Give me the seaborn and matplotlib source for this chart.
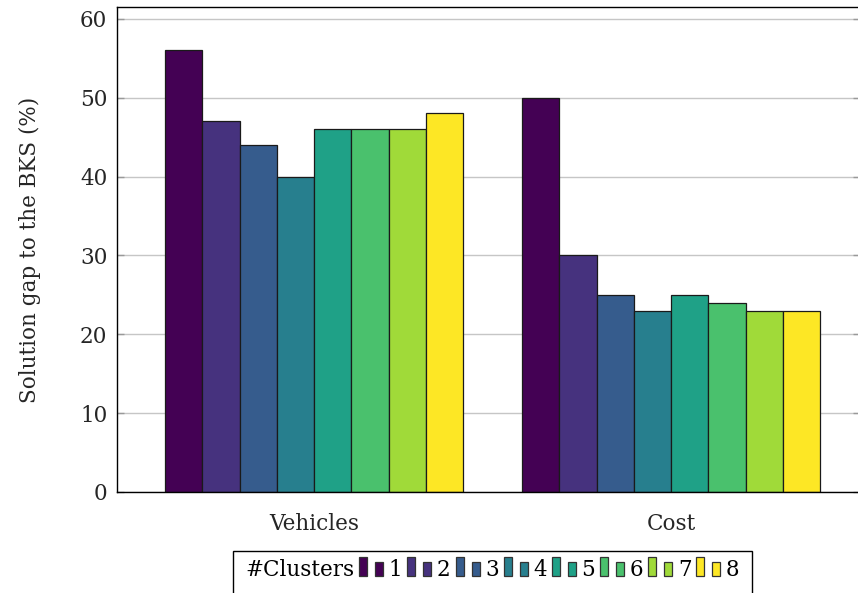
import matplotlib
matplotlib.use("Agg")
import matplotlib.pyplot as plt
from matplotlib.patches import Rectangle
from matplotlib.offsetbox import HPacker, TextArea, DrawingArea, AnchoredOffsetbox
import seaborn as sns
import pandas as pd

# Solution gap (%) per metric and number of clusters
metrics = ["Vehicles", "Cost"]
clusters = ["1", "2", "3", "4", "5", "6", "7", "8"]
vehicles_gap = [56, 47, 44, 40, 46, 46, 46, 48]
cost_gap = [50, 30, 25, 23, 25, 24, 23, 23]
y_ticks = [0, 10, 20, 30, 40, 50, 60]

rows = []
for c, v in zip(clusters, vehicles_gap):
    rows.append({"metric": "Vehicles", "cluster": c, "gap": v})
for c, v in zip(clusters, cost_gap):
    rows.append({"metric": "Cost", "cluster": c, "gap": v})
df = pd.DataFrame(rows)

sns.set_style("white")
plt.rcParams["font.family"] = ["DejaVu Serif"]
FS = 15.5
plt.rcParams["font.size"] = FS

# viridis sampled end to end, one colour per cluster count
cmap = matplotlib.colormaps["viridis"]
palette = [cmap(i / (len(clusters) - 1)) for i in range(len(clusters))]

W, H = 858, 593
fig = plt.figure(figsize=(W / 100, H / 100), dpi=100)
ax_l, ax_r, ax_t, ax_b = 117, 860, 7, 492
ax = fig.add_axes([ax_l / W, 1 - ax_b / H, (ax_r - ax_l) / W, (ax_b - ax_t) / H])

sns.barplot(data=df, x="metric", y="gap", hue="cluster", order=metrics,
            hue_order=clusters, palette=palette, saturation=1, width=0.835,
            edgecolor="#1a1a1a", linewidth=0.9, legend=False, ax=ax)

ax.set_xlim(-0.552, 1.529)
ax.set_ylim(0, 61.5)
ax.set_yticks(y_ticks)
ax.yaxis.grid(True, color="#c6c6c6", linewidth=1.0)
ax.xaxis.grid(False)
ax.set_axisbelow(True)
for s in ax.spines.values():
    s.set_visible(True)
    s.set_color("black")
    s.set_linewidth(1.0)
ax.tick_params(axis="y", direction="in", length=5, width=1, color="#999999",
               left=True, right=True, pad=7, labelsize=FS)
ax.tick_params(axis="x", length=0, pad=15, labelsize=FS)
ax.set_xlabel("")
ax.set_ylabel("Solution gap to the BKS (%)", fontsize=FS)
ax.yaxis.set_label_coords(-0.102, 0.5)

# Legend: "#Clusters" followed by two swatches and a label per cluster
px = 0.72  # pixels -> points at 100 dpi
children = [TextArea("#Clusters", textprops=dict(fontsize=FS, color="black"))]
for c, col in zip(clusters, palette):
    da = DrawingArea(34.5 * px, 20 * px, 0, 0)
    da.add_artist(Rectangle((5 * px, 0.5 * px), 8 * px, 19 * px, facecolor=col,
                            edgecolor="#333333", linewidth=0.9))
    da.add_artist(Rectangle((21 * px, 0.5 * px), 8 * px, 14 * px, facecolor=col,
                            edgecolor="#333333", linewidth=0.9))
    children.append(da)
    children.append(TextArea(c, textprops=dict(fontsize=FS, color="black")))
box = HPacker(children=children, align="baseline", pad=0, sep=0)
anchored = AnchoredOffsetbox(loc="center left", child=box, pad=0, borderpad=0,
                             frameon=False,
                             bbox_to_anchor=(245 / W, 1 - 569 / H),
                             bbox_transform=fig.transFigure)
fig.add_artist(anchored)
frame = Rectangle((233 / W, 1 - 600 / H), (752 - 233) / W, (600 - 551) / H,
                  transform=fig.transFigure, facecolor="none",
                  edgecolor="black", linewidth=1.0)
fig.add_artist(frame)

fig.savefig("out.png", dpi=100)
